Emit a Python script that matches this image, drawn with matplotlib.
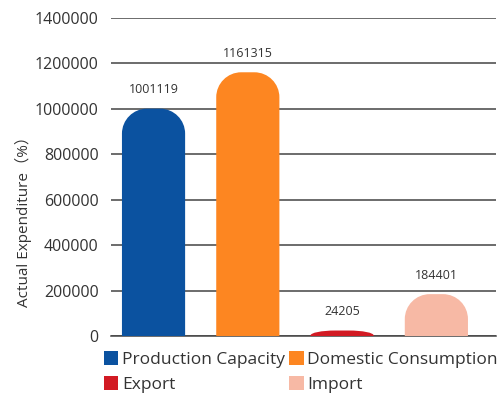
import matplotlib
matplotlib.use('Agg')
import matplotlib.pyplot as plt
from matplotlib.path import Path
from matplotlib.patches import PathPatch, Patch

plt.rcParams['font.family'] = ['Open Sans', 'Noto Sans CJK SC', 'DejaVu Sans']

CATEGORIES = ['Production Capacity', 'Domestic Consumption', 'Export', 'Import']
VALUES = [1001119, 1161315, 24205, 184401]
COLORS = ['#0b52a0', '#fd8621', '#d21a23', '#f7b9a5']
Y_TICKS = [0, 200000, 400000, 600000, 800000, 1000000, 1200000, 1400000]

BAR_W = 0.67
K = 0.5523


def rounded_bar(x, h, w, rx, ry):
    x0, x1 = x - w / 2, x + w / 2
    ry = min(ry, h * 0.9)
    verts = [(x0, 0), (x0, h - ry),
             (x0, h - ry + K * ry), (x0 + rx - K * rx, h), (x0 + rx, h),
             (x1 - rx, h),
             (x1 - rx + K * rx, h), (x1, h - ry + K * ry), (x1, h - ry),
             (x1, 0), (x0, 0)]
    codes = [Path.MOVETO, Path.LINETO,
             Path.CURVE4, Path.CURVE4, Path.CURVE4,
             Path.LINETO,
             Path.CURVE4, Path.CURVE4, Path.CURVE4,
             Path.LINETO, Path.CLOSEPOLY]
    return Path(verts, codes)


def main():
    fig = plt.figure(figsize=(5.03, 3.93), dpi=100)
    ax = fig.add_axes([0.2207, 0.145, 0.7653, 0.809])
    ax.set_xlim(-0.451, 3.632)
    ax.set_ylim(0, 1400000)

    # corner radius ~25px in both directions
    rx = 25 / 94.3
    ry = 25 * 1400000 / 318
    for i, (v, c) in enumerate(zip(VALUES, COLORS)):
        ax.add_patch(PathPatch(rounded_bar(i, v, BAR_W, rx, ry), facecolor=c,
                               edgecolor='none', zorder=3))
        ax.annotate(str(v), (i, v), xytext=(0, 9), textcoords='offset points',
                    ha='center', va='bottom', fontsize=9, color='#333333')

    ax.set_yticks(Y_TICKS)
    ax.set_yticklabels([str(t) for t in Y_TICKS], fontsize=11.5, color='#333333')
    ax.set_xticks([])
    ax.tick_params(axis='y', length=0, pad=9)
    ax.grid(axis='y', color='#444444', linewidth=1.1, zorder=0)
    for s in ['top', 'right', 'left']:
        ax.spines[s].set_visible(False)
    ax.spines['bottom'].set_color('#444444')
    ax.spines['bottom'].set_linewidth(1.1)

    ax.set_ylabel('Actual Expenditure（%）', fontsize=11, color='#333333')
    ax.yaxis.set_label_coords(-0.205, 0.37)

    handles = [Patch(facecolor=c, edgecolor='none') for c in COLORS]
    # order so that columns read: row1 = first two, row2 = last two
    order = [0, 2, 1, 3]
    fig.legend([handles[i] for i in order], [CATEGORIES[i] for i in order],
               ncol=2, loc='lower left', bbox_to_anchor=(0.175, -0.04),
               frameon=False, fontsize=12.5, handlelength=0.85, handleheight=0.85,
               handletextpad=0.2, columnspacing=0.25, labelspacing=0.45,
               labelcolor='#333333')

    fig.savefig('out.png', dpi=100)


if __name__ == '__main__':
    main()
